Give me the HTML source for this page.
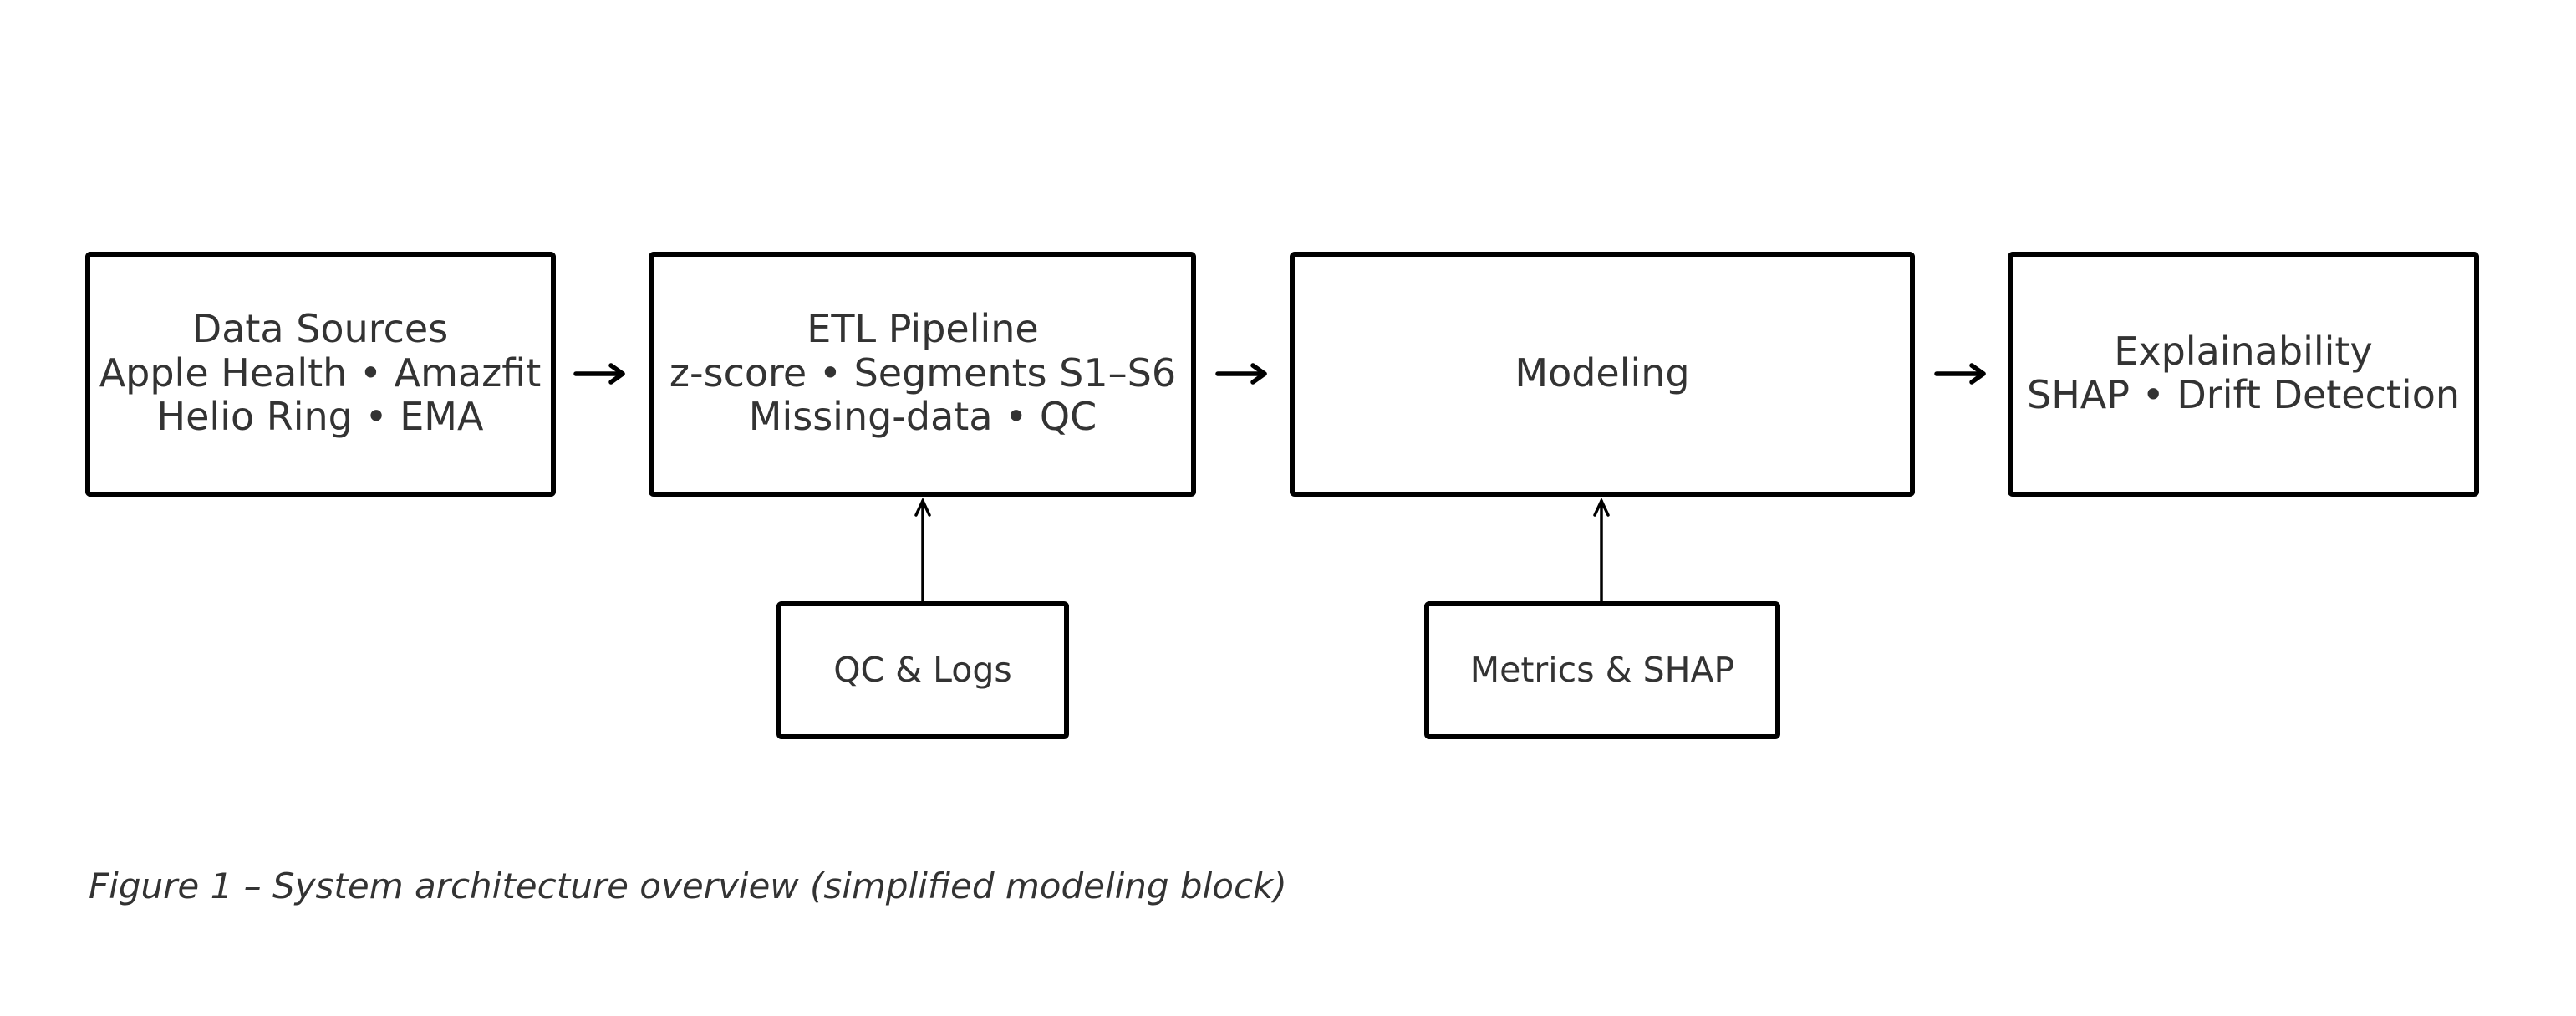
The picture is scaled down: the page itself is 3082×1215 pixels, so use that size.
<!DOCTYPE html>
<html><head><meta charset="utf-8"><style>
html,body{margin:0;padding:0;background:#fff;}
svg{display:block;}
text{font-family:"DejaVu Sans","Liberation Sans",sans-serif;fill:#333;}
</style></head><body>
<svg width="3082" height="1215" viewBox="0 0 3082 1215" xmlns="http://www.w3.org/2000/svg">
<g fill="none" stroke="#000" stroke-width="6" stroke-linejoin="round">
<rect x="105" y="304" width="557" height="287" rx="3"/>
<rect x="779" y="304" width="649" height="287" rx="3"/>
<rect x="1546" y="304" width="742" height="287" rx="3"/>
<rect x="2405" y="304" width="558" height="287" rx="3"/>
<rect x="932" y="722" width="344" height="159" rx="3"/>
<rect x="1707" y="722" width="420" height="159" rx="3"/>
</g>
<g stroke="#000" stroke-width="5.5" fill="none" stroke-linecap="round" stroke-linejoin="round">
<line x1="689" y1="447" x2="745" y2="447"/><polyline points="731,437 745,447 731,457"/>
<line x1="1457" y1="447" x2="1513" y2="447"/><polyline points="1499,437 1513,447 1499,457"/>
<line x1="2317" y1="447" x2="2373" y2="447"/><polyline points="2359,437 2373,447 2359,457"/>
</g>
<g stroke="#000" stroke-width="3.5" fill="none" stroke-linecap="round">
<line x1="1104" y1="720" x2="1104" y2="599"/><polyline points="1096,616 1104,599 1112,616"/>
<line x1="1916" y1="720" x2="1916" y2="599"/><polyline points="1908,616 1916,599 1924,616"/>
</g>
<g font-size="46" text-anchor="middle" dominant-baseline="central">
<text x="383" y="393">Data Sources</text>
<text x="383" y="446">Apple Health • Amazfit</text>
<text x="383" y="498">Helio Ring • EMA</text>
<text x="1104" y="393">ETL Pipeline</text>
<text x="1104" y="446">z-score • Segments S1–S6</text>
<text x="1104" y="498">Missing-data • QC</text>
<text x="1917" y="446">Modeling</text>
<text x="2684" y="420">Explainability</text>
<text x="2684" y="472">SHAP • Drift Detection</text>
<text x="1104" y="801" font-size="41">QC &amp; Logs</text>
<text x="1917" y="801" font-size="41">Metrics &amp; SHAP</text>
</g>
<text x="106" y="1074" font-size="42" font-style="italic">Figure 1 – System architecture overview (simplified modeling block)</text>
</svg>
</body></html>
